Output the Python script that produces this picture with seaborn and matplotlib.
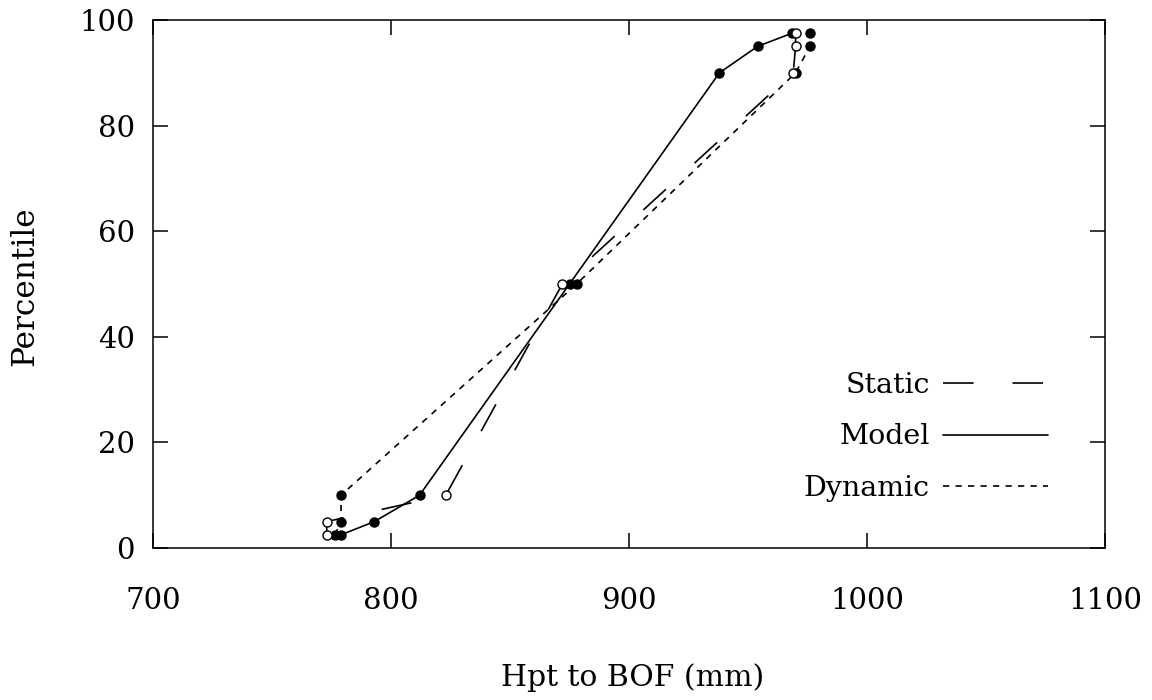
import matplotlib
matplotlib.use("Agg")
import matplotlib.pyplot as plt
import seaborn as sns
import pandas as pd
from matplotlib.lines import Line2D

# ---- data ----
percentiles = [2.5, 5, 10, 50, 90, 95, 97.5]
static_mm = [773, 773, 823, 872, 969, 970, 970]
model_mm = [779, 793, 812, 875, 938, 954, 968.5]
dynamic_mm = [776.5, 779, 779, 878, 970, 976, 976]
series_names = ["Static", "Model", "Dynamic"]
x_ticks = [700, 800, 900, 1000, 1100]
y_ticks = [0, 20, 40, 60, 80, 100]
x_label = "Hpt to BOF (mm)"
y_label = "Percentile"

sns.set_theme(style="ticks")
plt.rcParams['font.family'] = ['DejaVu Serif']
plt.rcParams['lines.scale_dashes'] = False
plt.rcParams['text.color'] = 'black'
plt.rcParams['axes.labelcolor'] = 'black'
plt.rcParams['xtick.color'] = 'black'
plt.rcParams['ytick.color'] = 'black'

fig = plt.figure(figsize=(11.52, 7), dpi=100)
ax = fig.add_axes([153 / 1152, 1 - 548 / 700, 952 / 1152, 528 / 700])

styles = {
    "Static": dict(linestyle=(0, (22, 28)), mfc="white"),
    "Model": dict(linestyle="-", mfc="black"),
    "Dynamic": dict(linestyle=(0, (4.5, 4.5)), mfc="black"),
}
data = {"Static": static_mm, "Model": model_mm, "Dynamic": dynamic_mm}

for name in ["Model", "Dynamic", "Static"]:
    df = pd.DataFrame({"mm": data[name], "pct": percentiles})
    st = styles[name]
    sns.lineplot(data=df, x="mm", y="pct", sort=False, estimator=None,
                 errorbar=None, ax=ax, color="black", linewidth=1.2,
                 linestyle=st["linestyle"], marker="o", markersize=6.5,
                 markerfacecolor=st["mfc"], markeredgecolor="black",
                 markeredgewidth=1.0, zorder=3 if name == "Static" else 2)

ax.set_xlim(x_ticks[0], x_ticks[-1])
ax.set_ylim(y_ticks[0], y_ticks[-1])
ax.set_xticks(x_ticks)
ax.set_yticks(y_ticks)
ax.tick_params(direction="in", length=11, width=1.1, top=True, right=True,
               labelsize=21, colors="black")
ax.tick_params(axis="x", pad=28)
ax.tick_params(axis="y", pad=13)
for sp in ax.spines.values():
    sp.set_linewidth(1.1)
    sp.set_color("black")

ax.set_xlabel(x_label, fontsize=21.5)
ax.set_ylabel(y_label, fontsize=22.5)
ax.xaxis.set_label_coords((633 - 153) / 952, -(663 - 548) / 528)
ax.yaxis.set_label_coords(-(153 - 40) / 952, (548 - 286) / 528)

handles = [Line2D([], [], color="black", lw=1.2, linestyle=styles[n]["linestyle"])
           for n in series_names]
leg = ax.legend(handles, series_names, markerfirst=False, frameon=False,
                loc="center right", bbox_to_anchor=((1048 - 153) / 952, (548 - 437) / 528),
                borderpad=0, borderaxespad=0, handlelength=3.7, handletextpad=0.45,
                labelspacing=0.85, fontsize=20.5)
for t in leg.get_texts():
    t.set_color("black")

fig.savefig("out.png", dpi=100, facecolor="white")
